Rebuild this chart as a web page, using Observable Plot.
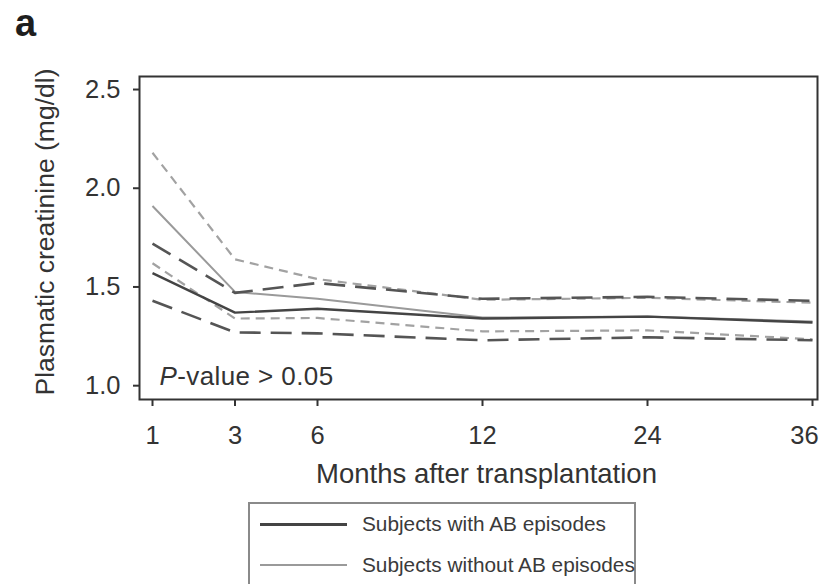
<!DOCTYPE html>
<html>
<head>
<meta charset="utf-8">
<script src="https://cdn.jsdelivr.net/npm/d3@7"></script>
<script src="https://cdn.jsdelivr.net/npm/@observablehq/plot@0.6"></script>
<style>
  html, body { margin: 0; padding: 0; background: #fff; }
  body { width: 819px; height: 584px; overflow: hidden; font-family: "Liberation Sans", Arial, Helvetica, sans-serif; color: #333; }
  #wrap { position: relative; width: 819px; height: 584px; }
  #panel { position: absolute; left: 15px; top: 4px; font-size: 38px; line-height: 38px; font-weight: bold; color: #1e1e1e; }
  #legend { position: absolute; left: 248px; top: 502px; width: 388px; height: 92px; box-sizing: border-box; border: 2px solid #8a8a8a; background: #fff; }
  .row { position: absolute; left: 10px; height: 30px; display: flex; align-items: center; }
  .swatch { width: 87px; margin-right: 15px; }
  .label { font-size: 20.8px; color: #3a3a3a; white-space: nowrap; }
</style>
</head>
<body>
<div id="wrap">
  <div id="chart"></div>
  <div id="panel">a</div>
  <div id="legend"></div>
</div>
<script>
// Follow-up visits (months after transplantation)
const months = [1, 3, 6, 12, 24, 36];

// Plasmatic creatinine (mg/dl), subjects with AB episodes: mean and 95% CI bounds
const withMean  = [1.57, 1.37, 1.39, 1.34, 1.35, 1.32];
const withUpper = [1.72, 1.47, 1.52, 1.44, 1.45, 1.43];
const withLower = [1.43, 1.27, 1.265, 1.23, 1.245, 1.23];

// Subjects without AB episodes: mean and 95% CI bounds
const withoutMean  = [1.91, 1.475, 1.44, 1.345, 1.35, 1.325];
const withoutUpper = [2.18, 1.64, 1.54, 1.435, 1.445, 1.42];
const withoutLower = [1.62, 1.34, 1.343, 1.275, 1.28, 1.235];

const yTicks = [1.0, 1.5, 2.0, 2.5];
const groupNames = ["Subjects with AB episodes", "Subjects without AB episodes"];
const yLabel = "Plasmatic creatinine (mg/dl)";
const xLabel = "Months after transplantation";
const pText = "P-value > 0.05";

const DARK = "#444";
const LIGHT = "#a2a2a2";

const W = 819, H = 500;

// Visits are laid out on an uneven grid: 1, 3, 6 one step apart, then 12, 24, 36 two steps apart
const slots = [0, 1, 2, 4, 6, 8];
const monthToSlot = d3.scaleLinear().domain(months).range(slots);

const toRows = (vals) => months.map((m, i) => ({month: m, value: vals[i]}));

const lineMark = (vals, stroke, strokeWidth, dash) =>
  Plot.line(toRows(vals), {
    x: d => monthToSlot(d.month), y: "value", stroke, strokeWidth,
    strokeDasharray: dash, strokeLinecap: "butt", strokeLinejoin: "round"
  });

const chart = Plot.plot({
  width: W,
  height: H,
  marginLeft: 139,
  marginRight: 2,
  marginTop: 76,
  marginBottom: 101,
  style: {fontFamily: "'Liberation Sans', Arial, Helvetica, sans-serif", color: "#333", background: "#fff"},
  x: {domain: [0, slots[slots.length - 1]], insetLeft: 13, insetRight: 5},
  y: {domain: [0.93, 2.566]},
  marks: [
    // group without AB episodes (light grey)
    lineMark(withoutUpper, LIGHT, 2.2, "9,6"),
    lineMark(withoutLower, LIGHT, 2.2, "9,6"),
    lineMark(withoutMean, "#9a9a9a", 2, null),
    // group with AB episodes (dark grey)
    lineMark(withUpper, "#555", 2.6, "21,10"),
    lineMark(withLower, "#555", 2.6, "21,10"),
    lineMark(withMean, DARK, 2.4, null),
    Plot.frame({stroke: "#333", strokeWidth: 2}),
    Plot.axisY({
      ticks: yTicks, tickFormat: d3.format(".1f"), tickSize: 6, tickPadding: 13,
      fontSize: 25.5, strokeWidth: 2, stroke: "#333", label: null
    }),
    Plot.axisX({
      ticks: months.map(monthToSlot),
      tickFormat: s => String(Math.round(monthToSlot.invert(s))),
      tickSize: 7, tickPadding: 19,
      fontSize: 25.5, strokeWidth: 2, stroke: "#333", label: null
    }),
    Plot.text([yLabel], {
      frameAnchor: "left", text: d => d, rotate: -90,
      textAnchor: "middle", lineAnchor: "middle",
      dx: -94, dy: -6, fontSize: 26.5, fill: "#333"
    }),
    Plot.text([xLabel], {
      frameAnchor: "bottom", text: d => d,
      textAnchor: "middle", lineAnchor: "middle",
      dx: 8, dy: 75, fontSize: 27.5, fill: "#333"
    }),
    Plot.text([pText], {
      frameAnchor: "bottom-left", text: d => d,
      textAnchor: "start", lineAnchor: "middle",
      dx: 20, dy: -23, fontSize: 26, fill: "#333"
    })
  ]
});

const ns = "http://www.w3.org/2000/svg";
const lastMonth = String(months[months.length - 1]);
chart.querySelectorAll("text").forEach(t => {
  // Italicise the leading "P" of the annotation
  if (t.textContent === pText) {
    t.textContent = "";
    t.setAttribute("letter-spacing", "0.4");
    const p = document.createElementNS(ns, "tspan");
    p.setAttribute("font-style", "italic");
    p.textContent = "P";
    const rest = document.createElementNS(ns, "tspan");
    rest.textContent = pText.slice(1);
    t.appendChild(p);
    t.appendChild(rest);
  }
  // Keep the last month label inside the right edge
  if (t.textContent === lastMonth) {
    t.setAttribute("dx", "-8");
  }
});

document.getElementById("chart").appendChild(chart);

// Legend: one row per group, swatch line + label
const legend = d3.select("#legend");
const legendItems = [
  {name: groupNames[0], color: DARK, width: 3},
  {name: groupNames[1], color: "#9a9a9a", width: 2.2}
];
legendItems.forEach((item, i) => {
  const row = legend.append("div").attr("class", "row").style("top", (5 + i * 41) + "px");
  row.append("div").attr("class", "swatch")
    .style("height", item.width + "px").style("background", item.color);
  row.append("div").attr("class", "label").text(item.name);
});
</script>
</body>
</html>
